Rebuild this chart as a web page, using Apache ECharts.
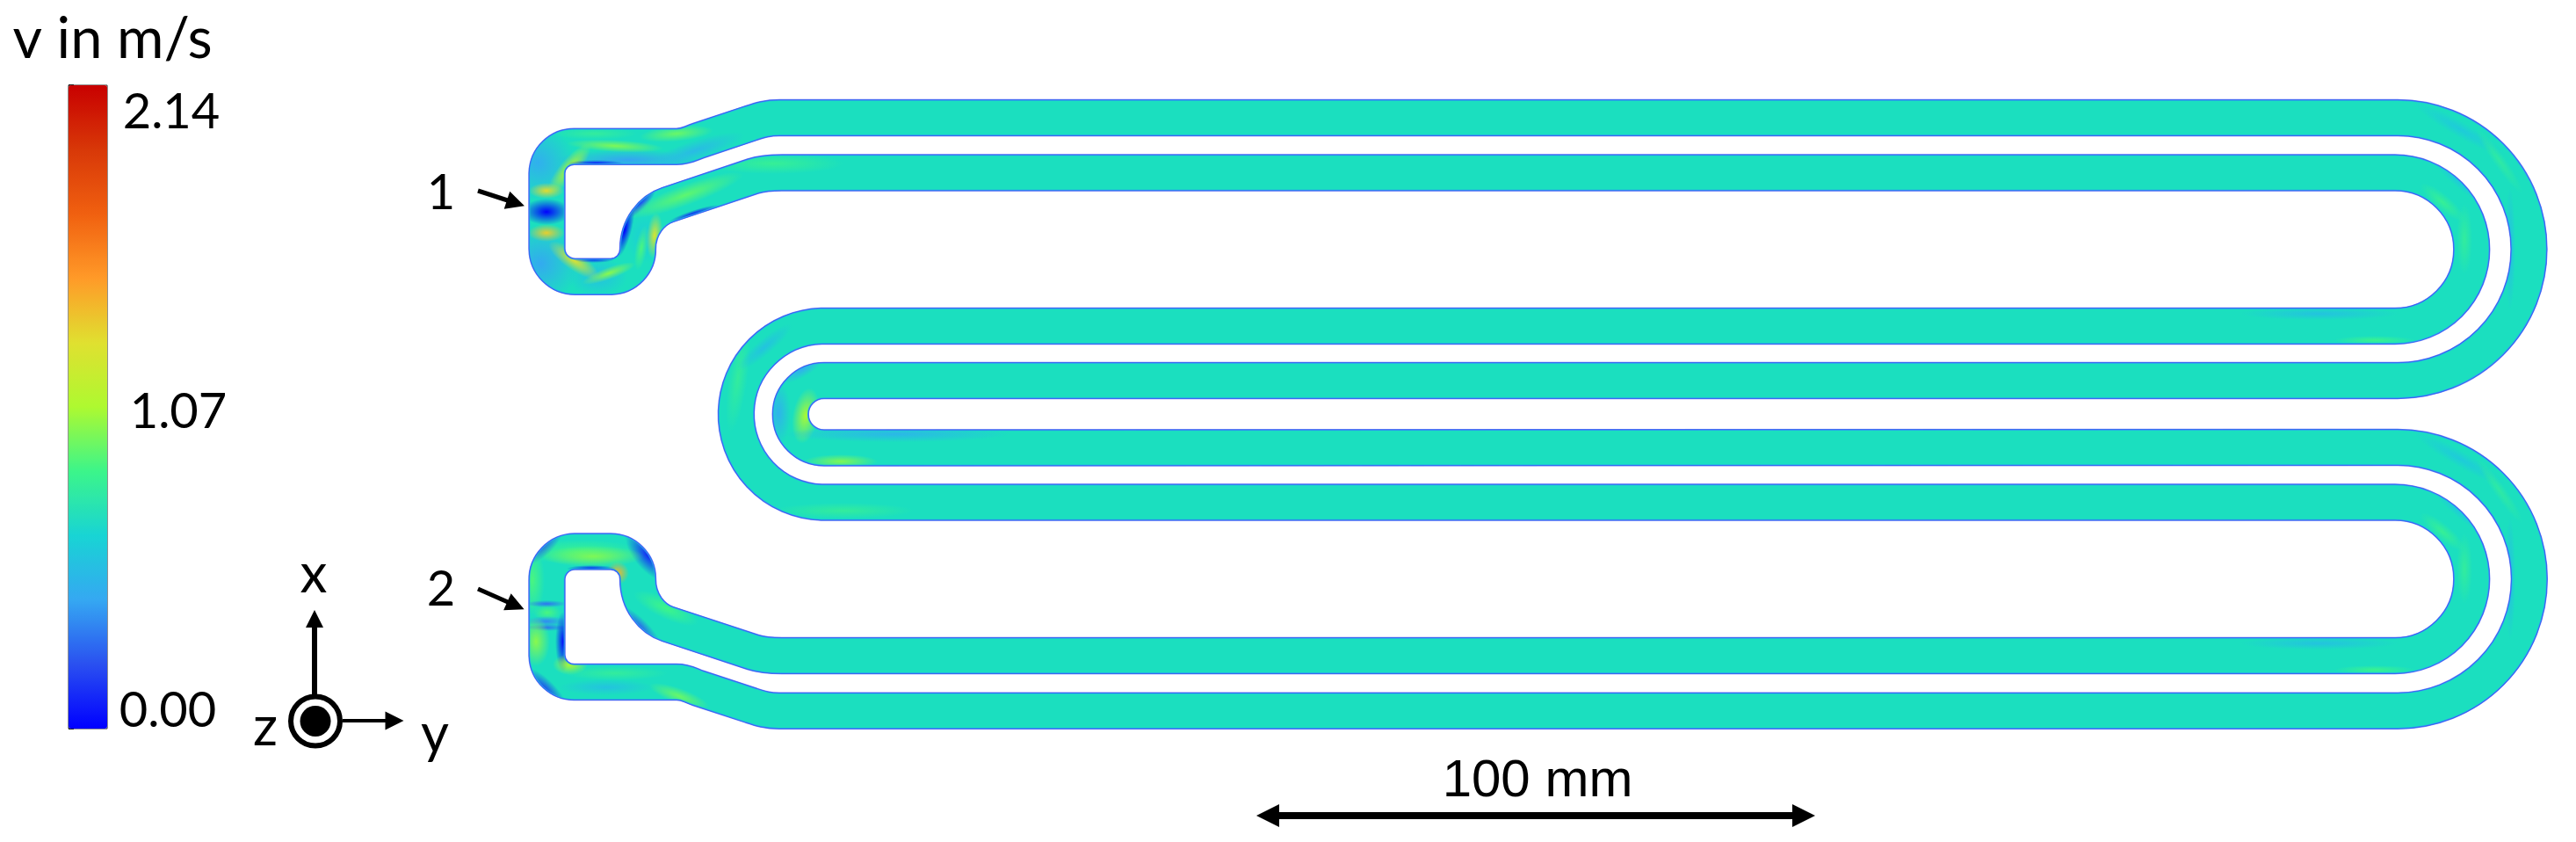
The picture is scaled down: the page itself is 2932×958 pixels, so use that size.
<!DOCTYPE html>
<html>
<head>
<meta charset="utf-8">
<title>v in m/s</title>
<script src="https://cdn.jsdelivr.net/npm/echarts@6/dist/echarts.min.js"></script>
<style>
  html, body { margin: 0; padding: 0; background: #fff; }
  #chart { width: 2932px; height: 958px; }
</style>
</head>
<body>
<div id="chart"></div>
<script>
// colour scale of the velocity, bottom to top
var speedMax = 2.14;
var speedTick = 0.214;
var speedColors = ['#0000ff', '#2a50f0', '#35a8f2', '#18d4d4', '#3cf58a', '#aef930', '#e0e030', '#ff9a28', '#f06010', '#d83808', '#c80000'];
var speedLabels = ['2.14', '1.07', '0.00'];

// centreline of the closed channel (picture pixels)
var channelPath = [
  ['M', 622.5, 240], ['L', 622.5, 197], ['A', 31, 1, 654.5, 166.7], ['L', 770, 166.7],
  ['C', 782, 166.7, 785, 163.3, 795, 160], ['L', 855, 140], ['C', 865, 136.7, 873, 134, 887, 134],
  ['L', 2729, 134], ['A', 149.5, 1, 2729, 433], ['L', 938, 433], ['A', 38.25, 0, 938, 509.5],
  ['L', 2729, 509], ['A', 149.85, 1, 2729, 808.7], ['L', 887, 808.7],
  ['C', 873, 808.7, 865, 806, 855, 802.7], ['L', 795, 783], ['C', 785, 779.7, 782, 776, 770, 776],
  ['L', 654.5, 776], ['A', 31, 1, 622.5, 745], ['L', 622.5, 660], ['A', 32, 1, 654.5, 627.5],
  ['L', 695, 627.5], ['A', 31, 1, 726, 659], ['C', 726, 685, 742, 704, 760, 710], ['L', 857, 742],
  ['C', 868, 745.6, 878, 746, 890, 746], ['L', 2726, 746], ['A', 87.25, 0, 2726, 571.5],
  ['L', 935, 571.5], ['A', 100.3, 1, 935, 371], ['L', 2726, 371], ['A', 87.25, 0, 2726, 196.5],
  ['L', 890, 196.5], ['C', 878, 196.5, 868, 197, 857, 200.5], ['L', 760, 233],
  ['C', 742, 239, 726, 258, 726, 283], ['A', 31, 1, 695, 314.7], ['L', 654.5, 314.7],
  ['A', 32, 1, 622.5, 283], ['Z']
];

// local speed patches: x, y, half length, half width, angle, speed in m/s
var patchesInlet1 = [
  [612, 185, 42, 46, -45, 0.46], [615, 300, 44, 44, 40, 0.44], [715, 182, 80, 12, 0, 0.42], [725, 225, 26, 16, -50, 0.36],
  [790, 172, 60, 12, -18, 0.52], [680, 315, 34, 22, 0, 0.55], [735, 270, 24, 30, 0, 0.62],
  [622, 241, 28, 15, 0, 0], [622, 217, 20, 9, 0, 1.3], [622, 265, 21, 10, 0, 1.34],
  [648, 192, 36, 11, -50, 1.08], [653, 296, 34, 11, 35, 1.28], [678, 186, 32, 4, 0, 0.05], [676, 295, 24, 4, 0, 0.05],
  [700, 166, 55, 7, 3, 0.98], [677, 152, 48, 7, 0, 0.8], [770, 152, 42, 9, -5, 0.94], [693, 311, 32, 7, -20, 1.0],
  [711, 262, 8, 32, 15, 0], [727, 230, 28, 9, -45, 0.14], [745, 268, 9, 26, 5, 1.24], [730, 282, 7, 26, 10, 0.88],
  [790, 243, 30, 4, -18, 0.08], [780, 222, 70, 12, -20, 0.92], [880, 186, 80, 12, 0, 0.82]
];
var patchesInlet2 = [
  [660, 628, 70, 14, 0, 0.85], [606, 660, 14, 40, 0, 0.88], [738, 632, 36, 16, 50, 0.1], [703, 652, 13, 13, 0, 1.42],
  [675, 633, 58, 12, 0, 0.98], [673, 647, 28, 4, 0, 0.05],
  [623, 697, 16, 9, 0, 0.88], [622, 707, 24, 6, 0, 0.36], [622, 687, 24, 4, 0, 0.3], [622, 714, 24, 4, 0, 0.3],
  [641, 730, 9, 34, 0, 0.03], [610, 730, 16, 28, 0, 1.0], [649, 756, 20, 12, 0, 1.08], [620, 785, 34, 12, 45, 0.16],
  [617, 618, 32, 14, -45, 0.2], [773, 792, 36, 9, 20, 0.94], [728, 714, 34, 10, 45, 0.24],
  [758, 692, 40, 12, 25, 0.86], [690, 782, 55, 9, 0, 0.56], [700, 766, 60, 8, 0, 0.8]
];
var patchesBends = [
  [917, 473, 15, 32, 10, 1.06], [886, 470, 14, 36, 0, 0.48], [957, 525, 42, 8, 0, 0.98], [1020, 494, 130, 9, 0, 0.5],
  [913, 420, 28, 9, -30, 0.46], [840, 430, 11, 62, 8, 0.8], [960, 581, 80, 9, 0, 0.8], [870, 395, 40, 9, -40, 0.56],
  [2780, 230, 32, 9, 40, 0.82], [2805, 272, 9, 40, 0, 0.8], [2800, 207, 42, 7, 40, 0.6], [2703, 387, 46, 5, 0, 0.84],
  [2640, 357, 90, 7, 0, 0.56], [2800, 147, 60, 9, 30, 0.6], [2845, 183, 45, 7, 55, 0.78], [2857, 283, 6, 70, 0, 0.54],
  [2780, 605, 32, 9, 40, 0.82], [2805, 647, 9, 40, 0, 0.8], [2800, 582, 42, 7, 40, 0.6], [2703, 762, 46, 5, 0, 0.84],
  [2640, 732, 90, 7, 0, 0.56], [2800, 522, 60, 9, 30, 0.6], [2845, 558, 45, 7, 55, 0.78], [2857, 658, 6, 70, 0, 0.54]
];
var speedPatches = patchesInlet1.concat(patchesInlet2, patchesBends);

// nested wall layers, drawn below the core from the inside out
var wallWidths = [39.4, 40.4, 41.4, 42.4];
var wallColors = ['#26b4ea', '#2f7ff0', '#2f58f2', 'rgba(60,80,240,0.75)'];

var scaleBarEnds = [[[2053, 928], [1443, 928]], [[1443, 928], [2053, 928]]];
var inletArrows = [[[544, 217], [587, 231]], [[544, 670], [587, 689]]];
var axisArrowX = [[[358, 790], [358, 704]]];
var axisArrowY = [[[390, 820], [449, 820]]];

var chart = echarts.init(document.getElementById('chart'));

function buildPath(api) {
  return channelPath.map(function (c) {
    if (c[0] === 'Z') return 'Z';
    if (c[0] === 'A') {
      var end = api.coord([c[3], c[4]]);
      return 'A ' + c[1] + ' ' + c[1] + ' 0 0 ' + c[2] + ' ' + end[0] + ' ' + end[1];
    }
    var out = c[0];
    for (var i = 1; i < c.length; i += 2) {
      var p = api.coord([c[i], c[i + 1]]);
      out += ' ' + p[0] + ' ' + p[1];
    }
    return out;
  }).join(' ');
}

function arrowSeries(data, width, size) {
  return {
    type: 'lines',
    coordinateSystem: 'cartesian2d',
    xAxisIndex: 0,
    yAxisIndex: 0,
    z: 7,
    silent: true,
    symbol: ['none', 'triangle'],
    symbolSize: size,
    lineStyle: { color: '#000', width: width, opacity: 1, curveness: 0 },
    data: data.map(function (d) { return { coords: d }; })
  };
}

var option = {
  animation: false,
  grid: [
    { left: 0, top: 0, right: 0, bottom: 0 },
    { left: 78, top: 97, width: 44, height: 732, show: true, borderColor: '#222', borderWidth: 1, backgroundColor: 'transparent' }
  ],
  xAxis: [
    { type: 'value', min: 0, max: 2932, show: false },
    { type: 'value', gridIndex: 1, min: 0, max: 1, show: false }
  ],
  yAxis: [
    { type: 'value', min: 0, max: 958, inverse: true, show: false },
    {
      type: 'value', gridIndex: 1, min: 0, max: speedMax, interval: speedTick, position: 'right',
      axisLine: { show: true, lineStyle: { color: '#222' } },
      axisTick: { show: true, length: 6, lineStyle: { color: '#222', width: 2 } },
      axisLabel: { show: false },
      splitLine: { show: false }
    }
  ],
  visualMap: {
    type: 'continuous',
    seriesIndex: 1,
    dimension: 5,
    min: 0,
    max: speedMax,
    left: 78,
    top: 97,
    padding: 0,
    itemWidth: 44,
    itemHeight: 732,
    calculable: false,
    hoverLink: false,
    text: null,
    inRange: { color: speedColors }
  },
  series: [
    {
      // channel core
      type: 'custom',
      coordinateSystem: 'cartesian2d',
      z: 3,
      silent: true,
      clip: false,
      data: [[0, 0]],
      renderItem: function (params, api) {
        return {
          type: 'path',
          shape: { pathData: buildPath(api) },
          style: { fill: 'none', stroke: '#1bdfbf', lineWidth: 38.4, lineJoin: 'round' }
        };
      }
    },
    {
      // speed patches, only paint on top of the core
      type: 'custom',
      coordinateSystem: 'cartesian2d',
      z: 4,
      silent: true,
      clip: false,
      blendMode: 'source-atop',
      data: speedPatches,
      encode: { x: 0, y: 1 },
      renderItem: function (params, api) {
        var pos = api.coord([api.value(0), api.value(1)]);
        var color = api.visual('color');
        // radial fills stay round, so a circle of radius 10 gets stretched
        return {
          type: 'circle',
          x: pos[0],
          y: pos[1],
          rotation: -api.value(4) * Math.PI / 180,
          scaleX: api.value(2) / 10,
          scaleY: api.value(3) / 10,
          shape: { cx: 0, cy: 0, r: 10 },
          style: {
            fill: {
              type: 'radial', x: 0.5, y: 0.5, r: 0.5,
              colorStops: [
                { offset: 0, color: color },
                { offset: 0.4, color: echarts.color.modifyAlpha(color, 0.6) },
                { offset: 1, color: echarts.color.modifyAlpha(color, 0) }
              ]
            }
          }
        };
      }
    },
    {
      // blue wall layers, slide in under what is already drawn
      type: 'custom',
      coordinateSystem: 'cartesian2d',
      z: 5,
      silent: true,
      clip: false,
      blendMode: 'destination-over',
      data: [[0, 0]],
      renderItem: function (params, api) {
        var d = buildPath(api);
        return {
          type: 'group',
          children: wallWidths.map(function (w, i) {
            return {
              type: 'path',
              shape: { pathData: d },
              style: { fill: 'none', stroke: wallColors[i], lineWidth: w, lineJoin: 'round' }
            };
          })
        };
      }
    },
    arrowSeries(scaleBarEnds, 8, [26, 26]),
    arrowSeries(inletArrows, 5, [21, 21]),
    arrowSeries(axisArrowX, 6, [20, 20]),
    arrowSeries(axisArrowY, 4, [21, 21]),
    {
      // z axis symbol of the coordinate triad
      type: 'scatter',
      z: 8,
      silent: true,
      data: [[359, 820.5]],
      symbolSize: 56,
      itemStyle: { color: '#fff', borderColor: '#000', borderWidth: 6, opacity: 1 }
    },
    {
      type: 'scatter',
      z: 9,
      silent: true,
      data: [[359, 820.5]],
      symbolSize: 35,
      itemStyle: { color: '#000', opacity: 1 }
    },
    {
      // texts
      type: 'custom',
      coordinateSystem: 'cartesian2d',
      z: 10,
      silent: true,
      clip: false,
      data: [[0, 0]],
      renderItem: function (params, api) {
        function label(text, x, y, font) {
          var p = api.coord([x, y]);
          return {
            type: 'text',
            x: p[0],
            y: p[1],
            style: { text: text, font: font, fill: '#000', textAlign: 'center', textVerticalAlign: 'middle' }
          };
        }
        var labelFont = '56px Lato';
        return {
          type: 'group',
          children: [
            label('v in m/s', 128, 45, '65px Lato'),
            label(speedLabels[0], 195, 128, labelFont),
            label(speedLabels[1], 203, 469, labelFont),
            label(speedLabels[2], 191, 809, labelFont),
            label('1', 502, 220, labelFont),
            label('2', 502, 671, labelFont),
            label('x', 357, 654, '62px Lato'),
            label('y', 495, 836, '62px Lato'),
            label('z', 302, 828, '62px Lato'),
            label('100 mm', 1750, 889, '60px "Liberation Sans"')
          ]
        };
      }
    }
  ]
};

chart.setOption(option);
</script>
</body>
</html>
